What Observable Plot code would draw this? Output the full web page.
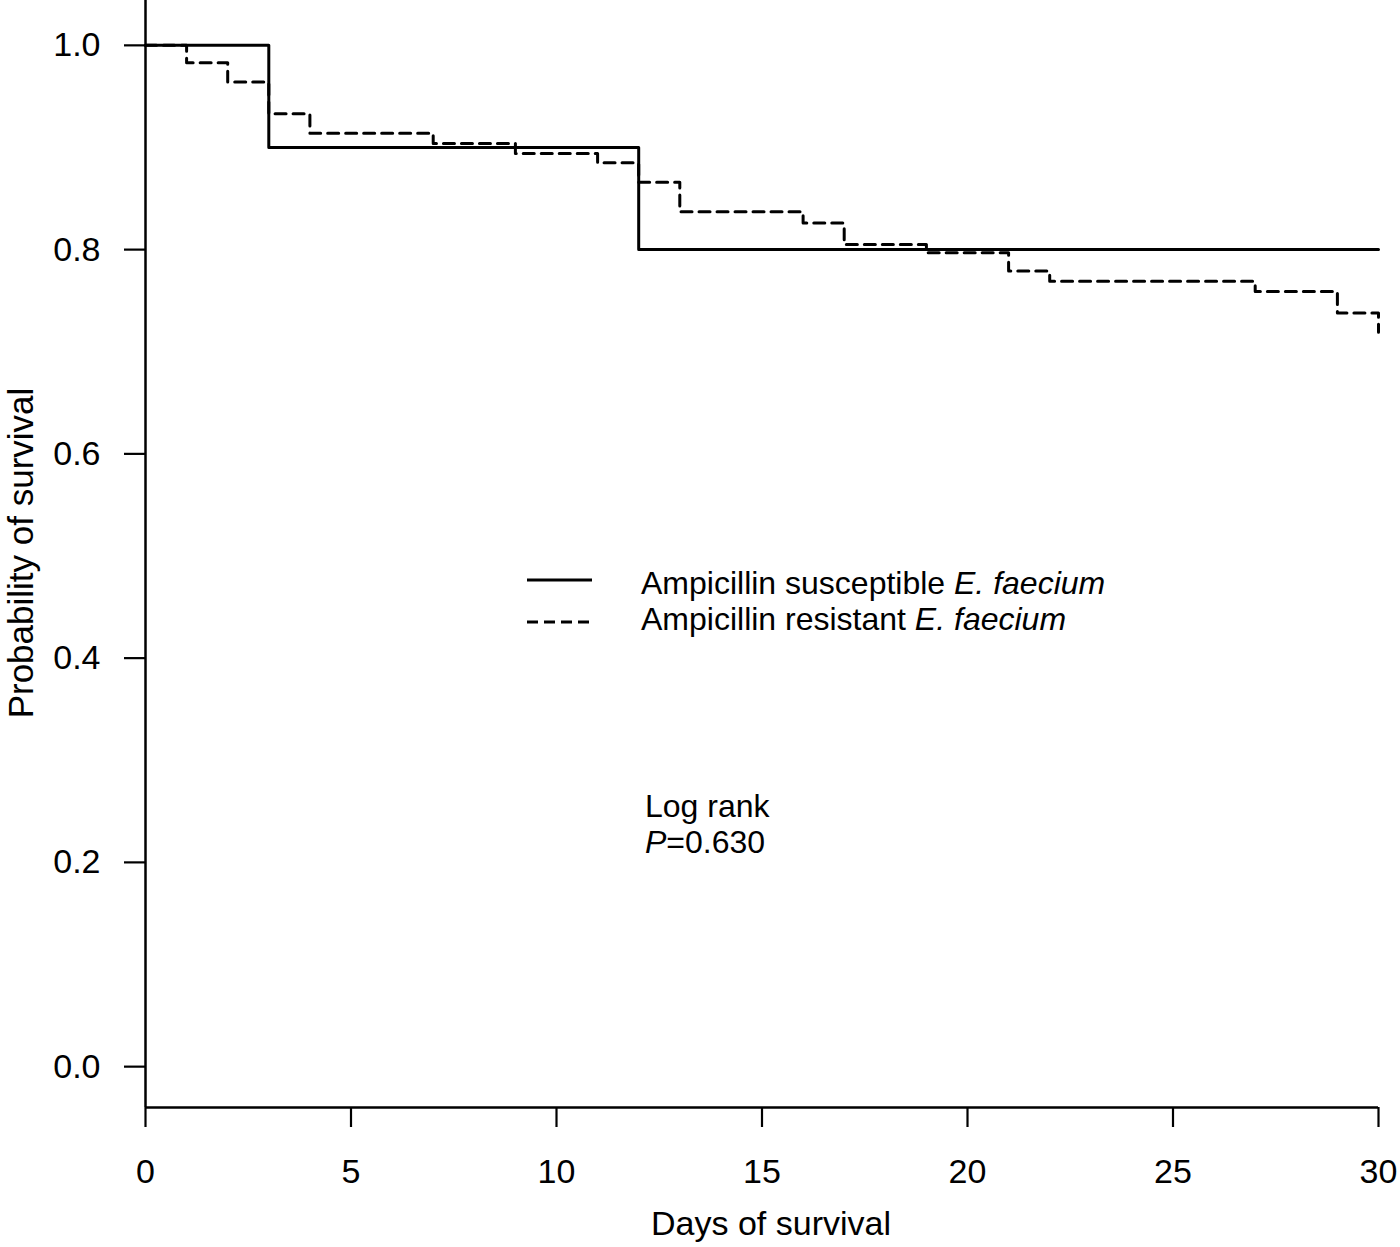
<!DOCTYPE html>
<html><head><meta charset="utf-8">
<script src="https://cdn.jsdelivr.net/npm/d3@7"></script>
<script src="https://cdn.jsdelivr.net/npm/@observablehq/plot@0.6"></script>
<style>body{margin:0;background:#fff} svg text{font-family:"Liberation Sans",Arial,sans-serif}</style>
</head><body><div id="chart"></div>
<script>
// Kaplan-Meier step data
const susceptibleDays = [0, 3, 12, 30];
const susceptibleSurv = [1.0, 0.9, 0.8, 0.8];
const resistantDays = [0, 1, 2, 3, 4, 7, 9, 11, 12, 13, 16, 17, 19, 21, 22, 27, 29, 30];
const resistantSurv = [1.0, 0.983, 0.964, 0.933, 0.914, 0.904, 0.894, 0.885, 0.866, 0.837, 0.826, 0.805, 0.797, 0.779, 0.769, 0.759, 0.738, 0.719];
const xTicks = [0, 5, 10, 15, 20, 25, 30];
const yTicks = [0, 0.2, 0.4, 0.6, 0.8, 1.0];
const seriesNames = ["Ampicillin susceptible ", "Ampicillin resistant "];
const speciesName = "E. faecium";
const xLabel = "Days of survival";
const yLabel = "Probability of survival";
const testLines = ["Log rank", "=0.630"];

const susceptible = susceptibleDays.map((d, i) => ({day: d, surv: susceptibleSurv[i]}));
const resistant = resistantDays.map((d, i) => ({day: d, surv: resistantSurv[i]}));

const plot = Plot.plot({
  width: 1400,
  height: 1247,
  marginLeft: 145,
  marginRight: 22,
  marginTop: 4,
  marginBottom: 140,
  style: {fontFamily: "Liberation Sans, Arial, sans-serif", background: "#fff", color: "#000"},
  x: {domain: [0, 30]},
  y: {domain: [-0.04, 1.04]},
  marks: [
    Plot.axisY({ticks: yTicks, tickFormat: d3.format(".1f"), tickSize: 21, tickPadding: 24, fontSize: 34, label: null, strokeWidth: 2.2}),
    Plot.axisX({ticks: xTicks, tickSize: 20, tickPadding: 31, fontSize: 34, label: null, strokeWidth: 2.2}),
    Plot.ruleX([0], {y1: -0.04, y2: 1.1, strokeWidth: 2.5}),
    Plot.ruleY([-0.04], {x1: 0, x2: 30, strokeWidth: 2.5}),
    Plot.line(susceptible, {x: "day", y: "surv", curve: "step-after", strokeWidth: 3, stroke: "#000"}),
    Plot.line(resistant, {x: "day", y: "surv", curve: "step-after", strokeWidth: 3, stroke: "#000", strokeDasharray: "11,7"})
  ]
});
document.getElementById("chart").appendChild(plot);

const svg = d3.select(plot);
svg.append("text").attr("x", 771).attr("y", 1235).attr("text-anchor", "middle")
  .attr("font-size", 34).attr("fill", "#000").text(xLabel);
svg.append("text").attr("transform", "translate(33,553) rotate(-90)").attr("text-anchor", "middle")
  .attr("font-size", 35).attr("fill", "#000").text(yLabel);

// legend
const lg = svg.append("g");
[0, 1].forEach(i => {
  const y = 580 + i * 42;
  lg.append("line").attr("x1", 527).attr("x2", 592).attr("y1", y).attr("y2", y)
    .attr("stroke", "#000").attr("stroke-width", 3)
    .attr("stroke-dasharray", i === 1 ? "11,6" : null);
  const t = lg.append("text").attr("x", 641).attr("y", 594 + i * 36).attr("text-anchor", "start")
    .attr("font-size", 32).attr("fill", "#000");
  t.append("tspan").text(seriesNames[i]);
  t.append("tspan").attr("font-style", "italic").text(speciesName);
});

// test annotation
svg.append("text").attr("x", 645).attr("y", 817).attr("text-anchor", "start")
  .attr("font-size", 32).attr("fill", "#000").text(testLines[0]);
const p = svg.append("text").attr("x", 645).attr("y", 853).attr("text-anchor", "start")
  .attr("font-size", 32).attr("fill", "#000");
p.append("tspan").attr("font-style", "italic").text("P");
p.append("tspan").text(testLines[1]);
</script>
</body></html>
